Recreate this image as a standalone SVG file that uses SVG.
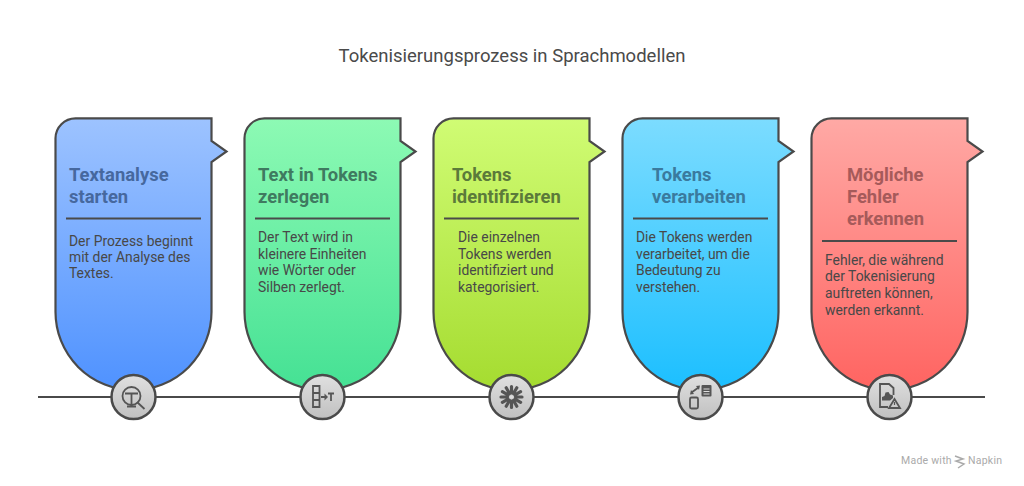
<svg xmlns="http://www.w3.org/2000/svg" width="1024" height="486" viewBox="0 0 1024 486">
<defs>
<linearGradient id="g1" x1="0" y1="0" x2="0" y2="1"><stop offset="0" stop-color="#9dc3ff"/><stop offset="1" stop-color="#4f92ff"/></linearGradient>
<linearGradient id="g2" x1="0" y1="0" x2="0" y2="1"><stop offset="0" stop-color="#8dfab4"/><stop offset="1" stop-color="#45e194"/></linearGradient>
<linearGradient id="g3" x1="0" y1="0" x2="0" y2="1"><stop offset="0" stop-color="#d0fc74"/><stop offset="1" stop-color="#a5dc30"/></linearGradient>
<linearGradient id="g4" x1="0" y1="0" x2="0" y2="1"><stop offset="0" stop-color="#7cdcff"/><stop offset="1" stop-color="#1cbfff"/></linearGradient>
<linearGradient id="g5" x1="0" y1="0" x2="0" y2="1"><stop offset="0" stop-color="#ffa9a5"/><stop offset="1" stop-color="#ff6461"/></linearGradient>
<linearGradient id="gc" x1="0" y1="0" x2="0" y2="1"><stop offset="0" stop-color="#e0e0e0"/><stop offset="1" stop-color="#c0c0c0"/></linearGradient>
</defs>
<style>
text{font-family:Roboto,"Liberation Sans",sans-serif}
.title{font-size:18.500px;fill:#4a4a4a}
.h{font-size:18.400px;font-weight:700}
.b{font-size:13.900px;fill:#484848}
.s{stroke:#4a4a4a;stroke-width:2;fill:none}
.c{stroke:#4a4a4a;stroke-width:2.500;fill:url(#gc)}
.i{stroke:#555;stroke-width:1.800;fill:none}
.p{stroke:#555;stroke-width:3.200;stroke-linecap:round;fill:none}
.f{fill:#555}
.card{stroke:#4a4a4a;stroke-width:2.200}
.r{stroke:#4a4a4a;stroke-width:1.800}
.w{font-size:10.500px;fill:#aaaaaa;letter-spacing:.25px}
</style>
<text class="title" x="512" y="62" text-anchor="middle">Tokenisierungsprozess in Sprachmodellen</text>

<g id="connectors"><line class="s" x1="38" y1="397" x2="985" y2="397"/></g>

<g id="node1">
<path class="card" fill="url(#g1)" d="M55.500 138.300A20 20 0 0 1 75.500 118.300H211.500V141L226.500 151.500 211.500 162V312A78 78 0 0 1 55.500 312Z"/>
<text class="h" fill="#46689e"><tspan x="69" y="181">Textanalyse</tspan><tspan x="69" y="203">starten</tspan></text>
<line class="r" x1="66" y1="218.500" x2="201" y2="218.500"/>
<text class="b"><tspan x="69" y="246">Der Prozess beginnt</tspan><tspan x="69" y="262">mit der Analyse des</tspan><tspan x="69" y="278">Textes.</tspan></text>
<circle class="c" cx="133.500" cy="397" r="22"/>
<circle class="i" cx="131.500" cy="396" r="9"/><path class="i" d="M125 393.500H138M131.500 393.500V406M127 406.500H136M137 402L144.500 409"/>
</g>

<g id="node2">
<path class="card" fill="url(#g2)" d="M244.500 138.300A20 20 0 0 1 264.500 118.300H400.500V141L415.500 151.500 400.500 162V312A78 78 0 0 1 244.500 312Z"/>
<text class="h" fill="#3f7a60"><tspan x="258" y="181">Text in Tokens</tspan><tspan x="258" y="203">zerlegen</tspan></text>
<line class="r" x1="255" y1="218.500" x2="390" y2="218.500"/>
<text class="b"><tspan x="258" y="242">Der Text wird in</tspan><tspan x="258" y="259">kleinere Einheiten</tspan><tspan x="258" y="275">wie Wörter oder</tspan><tspan x="258" y="292">Silben zerlegt.</tspan></text>
<circle class="c" cx="322.500" cy="397" r="22"/>
<path class="i" d="M313 386H319.500V407H313ZM313 393H319.500M313 400H319.500M321 397H325"/><path class="f" d="M324.500 393.500L328 397 324.500 400.500Z"/><path class="i" stroke-width="2" d="M328 393.500H334M331 393.500V401"/>
</g>

<g id="node3">
<path class="card" fill="url(#g3)" d="M433.500 138.300A20 20 0 0 1 453.500 118.300H589.500V141L604.500 151.500 589.500 162V312A78 78 0 0 1 433.500 312Z"/>
<text class="h" fill="#5b7a3a"><tspan x="452" y="181">Tokens</tspan><tspan x="452" y="203">identifizieren</tspan></text>
<line class="r" x1="444" y1="218.500" x2="579" y2="218.500"/>
<text class="b"><tspan x="458" y="242">Die einzelnen</tspan><tspan x="458" y="259">Tokens werden</tspan><tspan x="458" y="275">identifiziert und</tspan><tspan x="458" y="292">kategorisiert.</tspan></text>
<circle class="c" cx="511.500" cy="397" r="22"/>
<path class="p" d="M511.500 393V386.500M513.500 393.500L516.800 387.800M515 394.900L520.600 391.700M515.500 397H522M515 399.100L520.600 402.300M513.500 400.500L516.800 406.200M511.500 401V407.500M509.500 400.500L506.200 406.200M508 399.100L502.400 402.300M507.500 397H501M508 394.900L502.400 391.700M509.500 393.500L506.200 387.800"/>
<circle cx="511.500" cy="397" r="1.500" fill="#ddd"/>
</g>

<g id="node4">
<path class="card" fill="url(#g4)" d="M622.500 138.300A20 20 0 0 1 642.500 118.300H778.500V141L793.500 151.500 778.500 162V312A78 78 0 0 1 622.500 312Z"/>
<text class="h" fill="#3a7a9e"><tspan x="652" y="181">Tokens</tspan><tspan x="652" y="203">verarbeiten</tspan></text>
<line class="r" x1="633" y1="218.500" x2="768" y2="218.500"/>
<text class="b"><tspan x="636" y="242">Die Tokens werden</tspan><tspan x="636" y="259">verarbeitet, um die</tspan><tspan x="636" y="275">Bedeutung zu</tspan><tspan x="636" y="292">verstehen.</tspan></text>
<circle class="c" cx="700.500" cy="397" r="22"/>
<rect class="i" x="690" y="397.500" width="8" height="11" rx="1.500"/>
<rect class="f" x="701.500" y="385" width="10" height="11.500" rx="1"/>
<path d="M703.500 389H709.500M703.500 391.500H709.500M703.500 394H709.500" stroke="#ddd" stroke-width="1"/>
<path class="i" stroke-width="2" d="M691.500 392.500L698.500 387.500"/>
<path class="f" d="M690 394.500L691 390 694 394ZM700 385.500L699 390 696 386Z"/>
</g>

<g id="node5">
<path class="card" fill="url(#g5)" d="M811.500 138.300A20 20 0 0 1 831.500 118.300H967.500V141L982.500 151.500 967.500 162V312A78 78 0 0 1 811.500 312Z"/>
<text class="h" fill="#a65a5a"><tspan x="847" y="181">Mögliche</tspan><tspan x="847" y="203">Fehler</tspan><tspan x="847" y="225">erkennen</tspan></text>
<line class="r" x1="822" y1="241" x2="957" y2="241"/>
<text class="b"><tspan x="825" y="265">Fehler, die während</tspan><tspan x="825" y="281">der Tokenisierung</tspan><tspan x="825" y="298">auftreten können,</tspan><tspan x="825" y="315">werden erkannt.</tspan></text>
<circle class="c" cx="889.500" cy="397" r="22"/>
<path class="i" d="M893.500 395V388L889 384H880V407H888"/>
<path class="f" d="M882 400.500V397L884.500 396 885.500 392.500 888.500 392 890 394.500 893 395.500V398L890 400.500Z"/>
<path class="i" d="M894.500 399L900 408H889Z"/><path d="M894.500 402V405" stroke="#555" stroke-width="1.200"/>
</g>

<g id="watermark">
<text class="w" x="901" y="464">Made with</text>
<path d="M955 456L963 459 956 461 964 464 958 468" stroke="#aaa" stroke-width="1.500" fill="none"/>
<text class="w" x="968" y="464">Napkin</text>
</g>
</svg>
